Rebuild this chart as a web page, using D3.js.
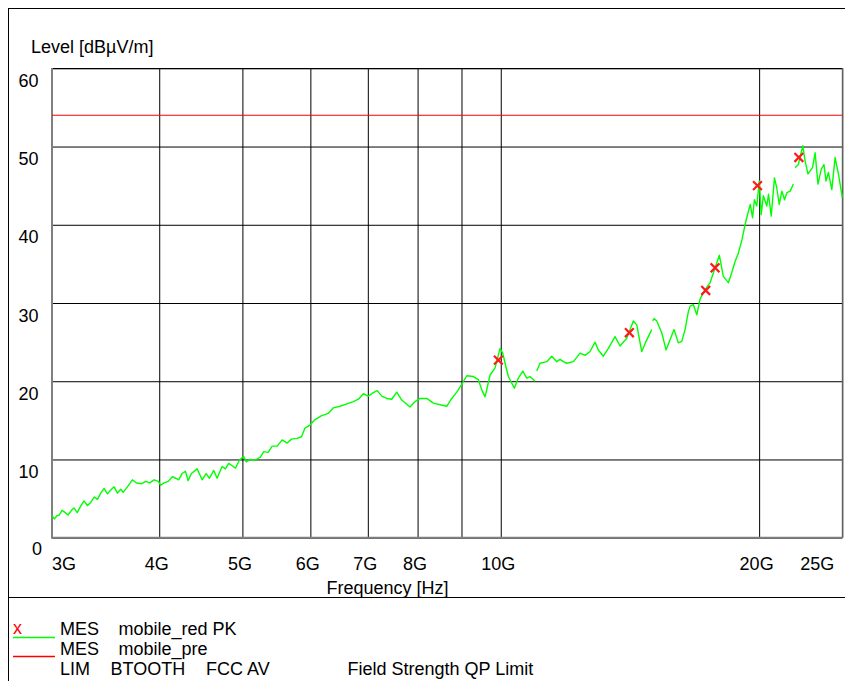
<!DOCTYPE html>
<html><head><meta charset="utf-8">
<script src="https://cdn.jsdelivr.net/npm/d3@7"></script>
<style>body{margin:0;background:#fff}svg{display:block;font-family:"Liberation Sans",Arial,sans-serif}</style>
</head><body><svg id="c" width="845" height="681"></svg>
<script>
// ---- data (frequency in GHz, level in dBµV/m; null = gap between sweep segments)
const freqGHz = [
3.000,3.019,3.040,3.059,3.082,3.109,3.132,3.161,3.182,3.210,
3.239,3.269,3.299,3.328,3.359,3.389,3.419,3.450,3.481,3.512,
3.544,3.576,3.607,3.630,3.673,3.722,3.763,3.816,3.857,3.899,
3.945,3.991,4.016,4.052,4.099,4.143,4.180,4.214,4.253,4.291,
4.322,4.361,4.428,4.488,4.536,4.577,4.630,4.672,4.735,4.777,
4.820,4.864,4.907,4.960,5.017,5.050,5.108,5.167,5.247,5.294,
5.357,5.415,5.489,5.563,5.638,5.704,5.792,5.860,5.912,5.995,
6.076,6.186,6.297,6.382,6.498,6.616,6.734,6.825,6.917,7.010,
7.093,7.181,7.267,7.365,7.464,7.565,7.667,7.840,7.946,8.053,
8.199,8.346,8.497,8.651,8.768,8.886,9.006,9.128,9.291,9.417,
9.503,9.588,9.717,9.848,9.981,10.054,10.116,10.206,10.371,10.483,
10.608,10.722,10.817,10.963,
10.990,
11.013,11.111,11.313,11.466,11.620,11.724,11.828,11.936,12.150,12.370,
12.537,12.706,12.878,12.992,13.168,13.346,13.588,13.772,14.021,14.272,
14.403,14.597,14.767,14.994,
15.010,
15.03,15.09,15.197,15.402,15.581,15.749,15.919,16.104,16.251,16.396,
16.542,16.62,16.765,16.919,17.070,17.300,17.534,17.770,17.976,18.170,
18.416,18.585,18.750,18.92,19.10,19.260,19.41,19.53,19.65,19.75,
19.874,20.01,20.11,20.229,20.415,20.51,20.66,20.84,20.970,21.11,
21.26,21.41,21.55,21.74,21.926,
21.98,
22.026,22.222,22.486,22.63,22.80,23.08,23.241,23.42,23.63,23.80,
23.93,24.085,24.306,24.522,24.75,25.0
];
const levelDb = [
2.8,2.4,2.8,2.9,3.5,3.2,2.9,3.5,3.8,3.2,
4.0,4.7,4.1,4.5,5.2,4.9,5.7,6.3,5.6,6.1,
6.5,5.7,6.2,5.8,6.5,7.4,7.0,6.9,7.2,7.0,
7.4,7.2,6.7,7.0,7.2,7.8,7.6,7.4,8.2,8.5,
7.3,8.2,8.8,7.4,8.2,7.6,8.6,7.6,9.1,8.8,
9.5,9.2,8.9,9.9,10.4,9.7,10.0,9.9,10.3,11.0,
10.9,11.7,11.7,12.5,12.1,12.6,12.7,12.9,14.0,14.4,
15.1,15.6,15.9,16.6,16.8,17.1,17.4,17.7,18.4,18.1,
18.5,18.8,18.1,17.8,17.7,18.6,17.6,16.7,17.4,17.8,
17.8,17.2,17.0,16.8,17.8,18.6,19.6,20.7,20.6,20.2,
18.9,18.0,20.8,21.7,24.2,23.6,22.3,20.6,19.1,20.4,
21.3,20.4,20.6,20.0,
null,
21.3,22.3,22.5,23.2,22.5,22.8,22.5,22.3,22.5,23.6,
23.3,23.8,25.0,24.0,23.2,24.2,25.7,24.5,25.5,27.7,
27.2,23.8,25.1,26.6,
null,
27.7,28.0,27.7,26.2,24.0,25.3,26.6,24.9,25.1,26.6,
28.9,29.6,29.8,28.5,30.5,31.7,32.6,34.5,36.1,33.4,
32.6,33.9,35.3,36.4,38.1,40.0,41.5,42.6,40.9,43.2,
42.4,45.6,41.3,43.7,42.4,43.9,41.1,46.0,44.7,42.6,
44.3,43.2,44.1,44.3,45.2,
null,
47.3,47.7,50.1,48.1,46.5,47.3,49.2,45.2,47.1,47.7,
45.6,46.7,44.5,48.6,46.4,43.5
];
const peakFreqGHz = [9.936, 14.12, 17.33, 17.77, 19.91, 22.25];
const peakLevel   = [22.7, 26.2, 31.6, 34.5, 45.0, 48.6];
const limitFreqGHz = [3, 25];
const limitLevel   = [54, 54];
const yTicks = [0, 10, 20, 30, 40, 50, 60];
const xGridTicks = [3, 4, 5, 6, 7, 8, 9, 10, 20, 25];
const xLabelValues = [3, 4, 5, 6, 7, 8, 10, 20, 25];
const xLabelText = ["3G", "4G", "5G", "6G", "7G", "8G", "10G", "20G", "25G"];
const legendCol1 = ["MES", "MES", "LIM"];
const legendCol2 = ["mobile_red PK", "mobile_pre", "BTOOTH"];
const legendCol3 = ["", "", "FCC AV"];
const legendCol4 = ["", "", "Field Strength QP Limit"];

// ---- layout
const W = 845, H = 681;
const X0 = 52, X1 = 842.3, Y0 = 537.7, Y1 = 68.3;
const GREEN = "#00ff00", RED = "#ff0000";
const svg = d3.select("#c");
const x = d3.scaleLog().domain([3, 25]).range([X0, X1]);
const y = d3.scaleLinear().domain([0, 60]).range([Y0, Y1]);

svg.append("rect").attr("width", W).attr("height", H).attr("fill", "#fff");
// outer frame
svg.append("rect").attr("x", 8.5).attr("y", 8.5).attr("width", 860).attr("height", 700)
  .attr("fill", "none").attr("stroke", "#000");
svg.append("line").attr("x1", 8).attr("x2", W).attr("y1", 597.5).attr("y2", 597.5).attr("stroke", "#000");

// vertical grid
const gx = svg.append("g").attr("transform", `translate(0,${Y0})`)
  .call(d3.axisBottom(x).tickValues(xGridTicks).tickSize(-(Y0 - Y1)).tickFormat(""));
gx.select(".domain").remove();
gx.selectAll(".tick line").attr("stroke", "#000");

// horizontal grid + labels
const gy = svg.append("g").attr("transform", `translate(${X0},0)`)
  .call(d3.axisLeft(y).tickValues(yTicks).tickSize(-(X1 - X0)).tickFormat(d => d));
gy.select(".domain").remove();
gy.selectAll(".tick line").attr("stroke", "#000");
gy.selectAll(".tick text")
  .attr("fill", "#000").attr("font-size", 18).attr("font-family", "Liberation Sans, Arial, sans-serif")
  .attr("dy", null)
  .attr("y", d => d === 0 ? 17.3 : 18)
  .attr("x", d => d === 0 ? 32 - X0 : 38.5 - X0)
  .attr("text-anchor", d => d === 0 ? "start" : "end");

// plot borders
svg.append("line").attr("x1", X0).attr("x2", X1).attr("y1", 68.5).attr("y2", 68.5).attr("stroke", "#000");
svg.append("line").attr("x1", X0).attr("x2", X0).attr("y1", 68).attr("y2", Y0 + 1).attr("stroke", "#808080").attr("stroke-width", 2);
svg.append("line").attr("x1", X0).attr("x2", X1).attr("y1", Y0).attr("y2", Y0).attr("stroke", "#808080").attr("stroke-width", 2);
svg.append("line").attr("x1", X1).attr("x2", X1).attr("y1", 68).attr("y2", Y0).attr("stroke", "#666").attr("stroke-width", 1);

// x labels
svg.append("g").selectAll("text").data(xLabelValues).join("text")
  .attr("x", (d, i) => i === 0 ? X0 : i === xLabelValues.length - 1 ? X1 - 8 : x(d) - 2.5)
  .attr("y", 570)
  .attr("text-anchor", (d, i) => i === 0 ? "start" : i === xLabelValues.length - 1 ? "end" : "middle")
  .attr("font-size", 18).text((d, i) => xLabelText[i]);
svg.append("text").attr("x", 387.5).attr("y", 594).attr("text-anchor", "middle").attr("font-size", 18).text("Frequency [Hz]");
svg.append("text").attr("x", 31).attr("y", 53).attr("font-size", 18).text("Level [dBµV/m]");

// limit line
const limitPts = limitFreqGHz.map((f, i) => [f, limitLevel[i]]);
svg.append("path").datum(limitPts)
  .attr("d", d3.line().x(d => x(d[0])).y(d => y(d[1])))
  .attr("fill", "none").attr("stroke", RED).attr("stroke-width", 1.2);

// measurement trace
const trace = freqGHz.map((f, i) => [f, levelDb[i]]);
svg.append("path").datum(trace)
  .attr("d", d3.line().defined(d => d[1] != null).x(d => x(d[0])).y(d => y(d[1])))
  .attr("fill", "none").attr("stroke", GREEN).attr("stroke-width", 1.4).attr("stroke-linejoin", "round");

// peak markers
const s = 4.4;
svg.append("g").selectAll("path").data(peakFreqGHz).join("path")
  .attr("d", (f, i) => {
    const cx = x(f), cy = y(peakLevel[i]);
    return `M${cx - s},${cy - s}L${cx + s},${cy + s}M${cx - s},${cy + s}L${cx + s},${cy - s}`;
  })
  .attr("stroke", "#ff1a1a").attr("stroke-width", 2.2).attr("fill", "none");

// legend
const lg = svg.append("g").attr("font-size", 18);
lg.append("text").attr("x", 13).attr("y", 634).attr("fill", RED).text("x");
lg.append("line").attr("x1", 13).attr("x2", 55).attr("y1", 637.5).attr("y2", 637.5).attr("stroke", GREEN).attr("stroke-width", 1.5);
lg.append("line").attr("x1", 13).attr("x2", 55).attr("y1", 656.5).attr("y2", 656.5).attr("stroke", RED).attr("stroke-width", 1.5);
const rowsY = [635, 655, 675];
legendCol1.forEach((t, i) => lg.append("text").attr("x", 60).attr("y", rowsY[i]).text(t));
legendCol2.forEach((t, i) => lg.append("text").attr("x", i === 2 ? 110.5 : 118.5).attr("y", rowsY[i]).text(t));
legendCol3.forEach((t, i) => { if (t) lg.append("text").attr("x", 206).attr("y", rowsY[i]).text(t); });
legendCol4.forEach((t, i) => { if (t) lg.append("text").attr("x", 347.5).attr("y", rowsY[i]).text(t); });
</script>
</body></html>
